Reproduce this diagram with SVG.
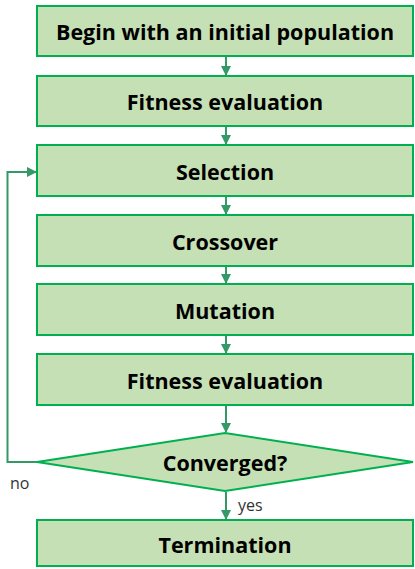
<svg xmlns="http://www.w3.org/2000/svg" width="415" height="569" viewBox="0 0 415 569">
<style>
.box{fill:#C5E0B4;stroke:#00B050;stroke-width:2}
.t{font-family:"Open Sans","Noto Sans",sans-serif;font-weight:bold;font-size:21.5px;fill:#000;text-anchor:middle;dominant-baseline:central}
.l{font-family:"Open Sans","Noto Sans",sans-serif;font-size:16px;fill:#333}
.c{fill:none;stroke:#339966;stroke-width:2}
</style>
<defs>
<marker id="a" viewBox="0 0 10 10" refX="9" refY="5" markerWidth="5" markerHeight="5" orient="auto" markerUnits="strokeWidth">
<path d="M0,0L10,5L0,10z" fill="#339966"/>
</marker>
</defs>
<g id="connectors">
<path class="c" d="M226,57V75" marker-end="url(#a)"/>
<path class="c" d="M226,127V144" marker-end="url(#a)"/>
<path class="c" d="M226,197V214" marker-end="url(#a)"/>
<path class="c" d="M226,267V283" marker-end="url(#a)"/>
<path class="c" d="M226,336V353" marker-end="url(#a)"/>
<path class="c" d="M226,406V432" marker-end="url(#a)"/>
<path class="c" d="M226,492V519" marker-end="url(#a)"/>
<path class="c" d="M37,462H7.5V172H36" marker-end="url(#a)"/>
<text class="l" x="10" y="489">no</text>
<text class="l" x="238" y="511">yes</text>
</g>
<g id="n1"><rect class="box" x="37" y="6" width="376" height="50"/><text class="t" x="225" y="31">Begin with an initial population</text></g>
<g id="n2"><rect class="box" x="37" y="76" width="376" height="50"/><text class="t" x="225" y="101">Fitness evaluation</text></g>
<g id="n3"><rect class="box" x="37" y="145" width="376" height="51"/><text class="t" x="225" y="171">Selection</text></g>
<g id="n4"><rect class="box" x="37" y="215" width="376" height="51"/><text class="t" x="225" y="241">Crossover</text></g>
<g id="n5"><rect class="box" x="37" y="284" width="376" height="51"/><text class="t" x="225" y="310">Mutation</text></g>
<g id="n6"><rect class="box" x="37" y="354" width="376" height="51"/><text class="t" x="225" y="380">Fitness evaluation</text></g>
<g id="n7"><path class="box" d="M37,462L225,433L413,462L225,491Z"/><text class="t" x="225" y="462">Converged?</text></g>
<g id="n8"><rect class="box" x="37" y="520" width="376" height="46"/><text class="t" x="225" y="544">Termination</text></g>
</svg>
